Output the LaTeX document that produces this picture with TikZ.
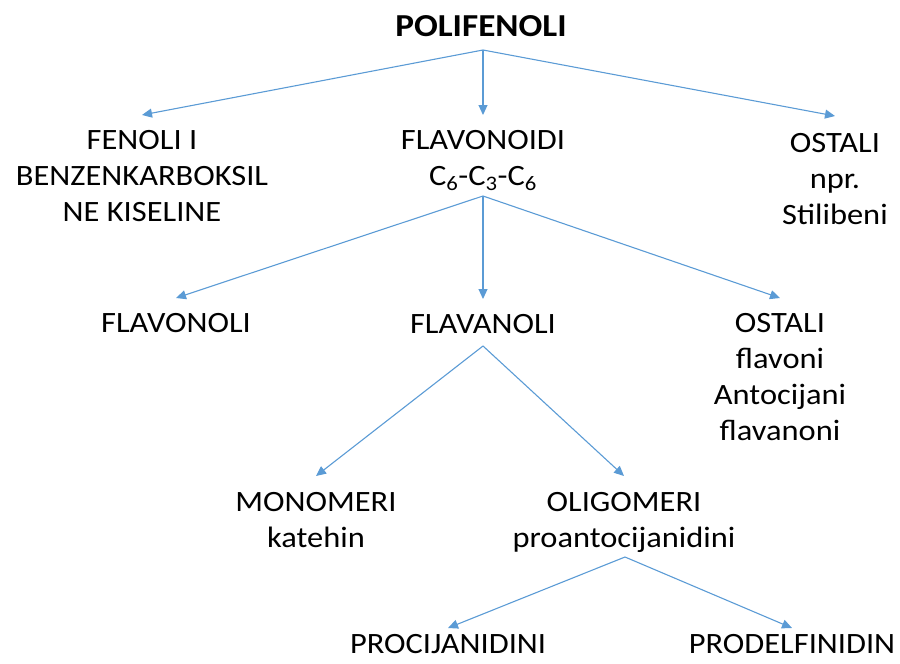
\documentclass[tikz,border=0pt]{standalone}
\usepackage{fontspec}
\setmainfont{Carlito}[FakeStretch=1.1]
\usetikzlibrary{arrows.meta}
\definecolor{linkblue}{RGB}{91,155,213}

\begin{document}
\begin{tikzpicture}[x=1pt,y=-1pt,
  txt/.style={anchor=north,inner sep=0pt,align=center,font=\fontsize{29.5}{36}\selectfont},
  link/.style={draw=linkblue,line width=1.1pt,-{Triangle[length=10pt,width=9pt]}}]
\useasboundingbox (0,0) rectangle (900,664);

%naslov
\node[txt,font=\fontsize{32}{38}\selectfont\bfseries] (pol) at (481,15) {POLIFENOLI};

%prva razina
\node[txt] (fen) at (142,130) {FENOLI I\\BENZENKARBOKSIL\\NE KISELINE};
\node[txt] (flv) at (483,130) {FLAVONOIDI\\C\textsubscript{6}-C\textsubscript{3}-C\textsubscript{6}};
\node[txt] (ost) at (835,133) {OSTALI\\npr.\\Stilibeni};

%druga razina
\node[txt] (flo) at (176,313) {FLAVONOLI};
\node[txt] (fla) at (483,314) {FLAVANOLI};
\node[txt] (ostb) at (780,313) {OSTALI\\flavoni\\Antocijani\\flavanoni};

%treca razina
\node[txt] (mon) at (316,492) {MONOMERI\\katehin};
\node[txt] (oli) at (624,492) {OLIGOMERI\\proantocijanidini};

%cetvrta razina
\node[txt] (pro) at (448,634) {PROCIJANIDINI};
\node[txt] (prd) at (792,634) {PRODELFINIDIN};

%grananje
\coordinate (polS) at (483,50);
\coordinate (flvS) at (483,196);
\coordinate (flaS) at (483,346);
\coordinate (oliS) at (625,557);

\draw[link] (polS) -- ([yshift=15pt]fen.north);
\draw[link] (polS) -- ([yshift=15pt]flv.north);
\draw[link] (polS) -- ([yshift=17pt]ost.north);

\draw[link] (flvS) -- ([yshift=15pt]flo.north);
\draw[link] (flvS) -- ([yshift=15pt]fla.north);
\draw[link] (flvS) -- ([yshift=15pt]ostb.north);

\draw[link] (flaS) -- ([yshift=16pt]mon.north);
\draw[link] (flaS) -- ([yshift=16pt]oli.north);

\draw[link] (oliS) -- ([yshift=6pt]pro.north);
\draw[link] (oliS) -- ([yshift=6pt]prd.north);

\end{tikzpicture}
\end{document}
